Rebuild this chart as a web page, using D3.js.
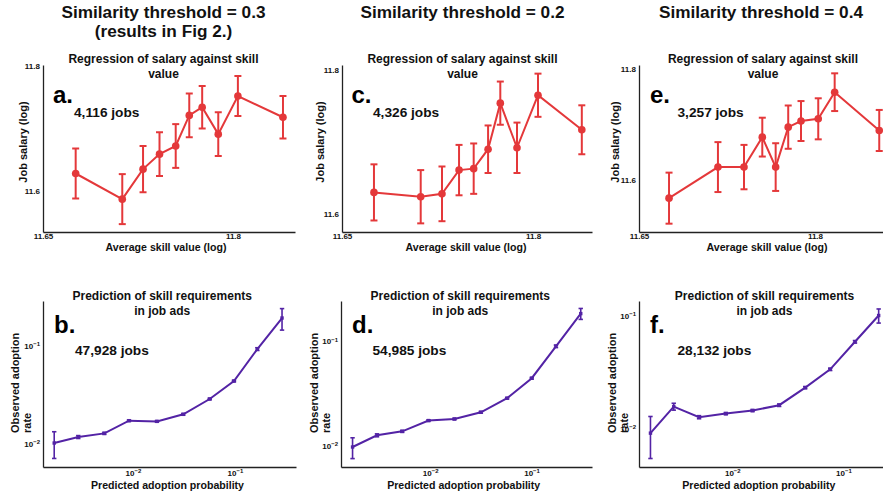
<!DOCTYPE html>
<html>
<head>
<meta charset="utf-8">
<script src="https://cdn.jsdelivr.net/npm/d3@7"></script>
<style>
  body { margin: 0; background: #fff; }
  svg { display: block; font-family: "Liberation Sans", Arial, Helvetica, sans-serif; font-weight: bold; }
</style>
</head>
<body>
<div id="chart"></div>
<script>
// column headers
const headers = [
  ["Similarity threshold = 0.3", "(results in Fig 2.)"],
  ["Similarity threshold = 0.2"],
  ["Similarity threshold = 0.4"]
];

// top row: salary regression (average skill value vs job salary, both log)
const skillA = [11.6758, 11.7126, 11.729, 11.742, 11.7548, 11.7655, 11.7757, 11.7884, 11.8039, 11.8395];
const salaryA = [11.628, 11.587, 11.635, 11.659, 11.672, 11.721, 11.734, 11.691, 11.752, 11.718];
const salaryErrA = [0.040, 0.040, 0.037, 0.035, 0.035, 0.035, 0.034, 0.035, 0.032, 0.034];

const skillC = [11.6751, 11.7118, 11.7285, 11.7419, 11.7534, 11.7647, 11.7743, 11.7874, 11.8039, 11.8383];
const salaryC = [11.630, 11.624, 11.628, 11.661, 11.663, 11.690, 11.754, 11.692, 11.765, 11.717];
const salaryErrC = [0.039, 0.037, 0.038, 0.035, 0.035, 0.033, 0.030, 0.035, 0.030, 0.034];

const skillE = [11.6756, 11.7173, 11.7395, 11.7551, 11.7665, 11.7772, 11.7881, 11.8028, 11.8168, 11.8548];
const salaryE = [11.567, 11.623, 11.623, 11.677, 11.623, 11.695, 11.706, 11.710, 11.758, 11.689];
const salaryErrE = [0.046, 0.045, 0.040, 0.035, 0.043, 0.039, 0.036, 0.037, 0.034, 0.037];

// bottom row: predicted adoption probability vs observed adoption rate
const predB = [0.00169, 0.00291, 0.00524, 0.00914, 0.01718, 0.03112, 0.05649, 0.0977, 0.1656, 0.2891];
const obsB = [0.01017, 0.01172, 0.01277, 0.01722, 0.01694, 0.0200, 0.02871, 0.04385, 0.0931, 0.1936];
const obsErrB = [0.0031, 0.0004, 0.0003, 0.0003, 0.0003, 0.0004, 0.0005, 0.0008, 0.003, 0.048];

const predD = [0.001714, 0.002985, 0.0053, 0.00962, 0.01734, 0.0316, 0.0574, 0.1004, 0.174, 0.3055];
const obsD = [0.00978, 0.01265, 0.0138, 0.0175, 0.01811, 0.0210, 0.0286, 0.0444, 0.0896, 0.1839];
const obsErrD = [0.0022, 0.0004, 0.0003, 0.0003, 0.0003, 0.0004, 0.0005, 0.0008, 0.0025, 0.022];

const predF = [0.001833, 0.00297, 0.00502, 0.00874, 0.0152, 0.0264, 0.0453, 0.0760, 0.127, 0.2075];
const obsF = [0.00916, 0.01574, 0.01268, 0.01364, 0.01452, 0.01619, 0.02317, 0.03365, 0.0590, 0.1008];
const obsErrF = [0.0037, 0.0011, 0.0004, 0.0003, 0.0003, 0.0004, 0.0005, 0.0008, 0.0015, 0.0144];

const topTicksX = [11.65, 11.8];
const topTicksY = [11.6, 11.8];
const logTicksX = [0.01, 0.1];
const logTicksY = [0.01, 0.1];

const topPanels = [
  { letter: "a.", jobs: "4,116 jobs", x: skillA, y: salaryA, err: salaryErrA,
    box: [43, 295, 65, 232], xd: [11.65, 11.849], yd: [11.5344, 11.8016],
    title: 163.5, xlab: 166, ylab: 23, lx: 53, jx: 74 },
  { letter: "c.", jobs: "4,326 jobs", x: skillC, y: salaryC, err: salaryErrC,
    box: [342, 592, 65, 232], xd: [11.65, 11.8463], yd: [11.575, 11.807],
    title: 462.5, xlab: 466, ylab: 320.5, lx: 351.5, jx: 373 },
  { letter: "e.", jobs: "3,257 jobs", x: skillE, y: salaryE, err: salaryErrE,
    box: [639, 883, 65, 232], xd: [11.65, 11.858], yd: [11.506, 11.807],
    title: 763, xlab: 767, ylab: 615.5, lx: 650, jx: 677.5 }
];

const bottomPanels = [
  { letter: "b.", jobs: "47,928 jobs", x: predB, y: obsB, err: obsErrB,
    box: [43, 296, 301, 467], xd: [-2.882, -0.402], yd: [-2.238, -0.539],
    title: 162.2, xlab: 167.5, ylab: [15, 27], lx: 54, jx: 75 },
  { letter: "d.", jobs: "54,985 jobs", x: predD, y: obsD, err: obsErrD,
    box: [341, 592, 301, 467], xd: [-2.880, -0.404], yd: [-2.2006, -0.615],
    title: 460.3, xlab: 463.7, ylab: [314, 325.7], lx: 352, jx: 372.5 },
  { letter: "f.", jobs: "28,132 jobs", x: predF, y: obsF, err: obsErrF,
    box: [639, 883, 301, 467], xd: [-2.840, -0.644], yd: [-2.338, -0.868],
    title: 764.5, xlab: 758.8, ylab: [612, 624], lx: 650, jx: 677.5 }
];

const RED = "#e4383a";
const PURPLE = "#5323a5";

const svg = d3.select("#chart").append("svg")
  .attr("width", 883)
  .attr("height", 497);

// headers
const headerX = [163.5, 462.5, 761];
headers.forEach((lines, i) => {
  lines.forEach((t, j) => {
    svg.append("text")
      .attr("x", headerX[i])
      .attr("y", 18 + j * 19)
      .attr("text-anchor", "middle")
      .attr("font-size", 17.2)
      .attr("fill", "#111")
      .text(t);
  });
});

function styleAxis(g) {
  g.select(".domain").attr("stroke", "#222").attr("stroke-width", 1.3);
  g.selectAll(".tick line").remove();
  g.selectAll(".tick text").attr("font-size", 8).attr("font-weight", "bold").attr("fill", "#111");
}

function supLabel(sel) {
  sel.each(function (d) {
    const t = d3.select(this);
    t.text("");
    t.append("tspan").text("10");
    t.append("tspan").attr("dy", "-0.45em").attr("font-size", 6).text("\u2212" + Math.round(-Math.log10(d)));
  });
}

// top row
topPanels.forEach((p) => {
  const [l, r, t, b] = p.box;
  const x = d3.scaleLinear().domain(p.xd).range([l, r]);
  const y = d3.scaleLinear().domain(p.yd).range([b, t]);

  svg.append("g").attr("transform", `translate(0,${b})`)
    .call(d3.axisBottom(x).tickValues(topTicksX).tickFormat(d3.format("")).tickSize(0).tickPadding(1))
    .call(styleAxis);
  svg.append("g").attr("transform", `translate(${l},0)`)
    .call(d3.axisLeft(y).tickValues(topTicksY).tickFormat(d3.format("")).tickSize(0).tickPadding(3))
    .call(styleAxis);

  const pts = p.x.map((v, i) => ({ x: v, y: p.y[i], e: p.err[i] }));

  svg.append("path").datum(pts)
    .attr("fill", "none").attr("stroke", RED).attr("stroke-width", 2)
    .attr("d", d3.line().x(d => x(d.x)).y(d => y(d.y)));

  const eb = svg.append("g").attr("stroke", RED).attr("stroke-width", 2);
  eb.selectAll("line.v").data(pts).enter().append("line")
    .attr("x1", d => x(d.x)).attr("x2", d => x(d.x))
    .attr("y1", d => y(d.y - d.e)).attr("y2", d => y(d.y + d.e));
  [1, -1].forEach(s => {
    eb.selectAll(null).data(pts).enter().append("line")
      .attr("x1", d => x(d.x) - 3.5).attr("x2", d => x(d.x) + 3.5)
      .attr("y1", d => y(d.y + s * d.e)).attr("y2", d => y(d.y + s * d.e));
  });

  svg.append("g").selectAll("circle").data(pts).enter().append("circle")
    .attr("cx", d => x(d.x)).attr("cy", d => y(d.y)).attr("r", 3.8).attr("fill", RED);

  ["Regression of salary against skill", "value"].forEach((s, j) => {
    svg.append("text").attr("x", p.title).attr("y", 63 + j * 15)
      .attr("text-anchor", "middle").attr("font-size", 12).attr("fill", "#111").text(s);
  });
  svg.append("text").attr("x", p.lx).attr("y", 103).attr("font-size", 24).attr("fill", "#000").text(p.letter);
  svg.append("text").attr("x", p.jx).attr("y", 116.5).attr("font-size", 13.7).attr("fill", "#111").text(p.jobs);
  svg.append("text").attr("x", p.xlab).attr("y", 250.5).attr("text-anchor", "middle")
    .attr("font-size", 10.6).attr("fill", "#111").text("Average skill value (log)");
  svg.append("text").attr("transform", `translate(${p.ylab},142) rotate(-90)`).attr("dy", "0.35em")
    .attr("text-anchor", "middle").attr("font-size", 11).attr("fill", "#111").text("Job salary (log)");
});

// bottom row
bottomPanels.forEach((p) => {
  const [l, r, t, b] = p.box;
  const x = d3.scaleLog().domain(p.xd.map(v => Math.pow(10, v))).range([l, r]);
  const y = d3.scaleLog().domain(p.yd.map(v => Math.pow(10, v))).range([b, t]);

  svg.append("g").attr("transform", `translate(0,${b})`)
    .call(d3.axisBottom(x).tickValues(logTicksX).tickSize(0).tickPadding(3))
    .call(styleAxis)
    .selectAll(".tick text").call(supLabel);
  svg.append("g").attr("transform", `translate(${l},0)`)
    .call(d3.axisLeft(y).tickValues(logTicksY).tickSize(0).tickPadding(3))
    .call(styleAxis)
    .selectAll(".tick text").call(supLabel);

  const pts = p.x.map((v, i) => ({ x: v, y: p.y[i], e: p.err[i] }));

  svg.append("path").datum(pts)
    .attr("fill", "none").attr("stroke", PURPLE).attr("stroke-width", 2)
    .attr("d", d3.line().x(d => x(d.x)).y(d => y(d.y)));

  const eb = svg.append("g").attr("stroke", PURPLE).attr("stroke-width", 1.6);
  eb.selectAll("line.v").data(pts).enter().append("line")
    .attr("x1", d => x(d.x)).attr("x2", d => x(d.x))
    .attr("y1", d => y(d.y - d.e)).attr("y2", d => y(d.y + d.e));
  [1, -1].forEach(s => {
    eb.selectAll(null).data(pts).enter().append("line")
      .attr("x1", d => x(d.x) - 2.2).attr("x2", d => x(d.x) + 2.2)
      .attr("y1", d => y(d.y + s * d.e)).attr("y2", d => y(d.y + s * d.e));
  });

  svg.append("g").selectAll("rect").data(pts).enter().append("rect")
    .attr("x", d => x(d.x) - 1.7).attr("y", d => y(d.y) - 1.7)
    .attr("width", 3.4).attr("height", 3.4).attr("fill", PURPLE);

  ["Prediction of skill requirements", "in job ads"].forEach((s, j) => {
    svg.append("text").attr("x", p.title).attr("y", 300 + j * 15)
      .attr("text-anchor", "middle").attr("font-size", 12).attr("fill", "#111").text(s);
  });
  svg.append("text").attr("x", p.lx).attr("y", 333.3).attr("font-size", 24).attr("fill", "#000").text(p.letter);
  svg.append("text").attr("x", p.jx).attr("y", 355).attr("font-size", 13.7).attr("fill", "#111").text(p.jobs);
  svg.append("text").attr("x", p.xlab).attr("y", 488.5).attr("text-anchor", "middle")
    .attr("font-size", 10.6).attr("fill", "#111").text("Predicted adoption probability");
  ["Observed adoption", "rate"].forEach((s, j) => {
    svg.append("text").attr("transform", `translate(${p.ylab[j]},433) rotate(-90)`).attr("dy", "0.35em")
      .attr("text-anchor", "start").attr("font-size", 11).attr("fill", "#111").text(s);
  });
});
</script>
</body>
</html>
